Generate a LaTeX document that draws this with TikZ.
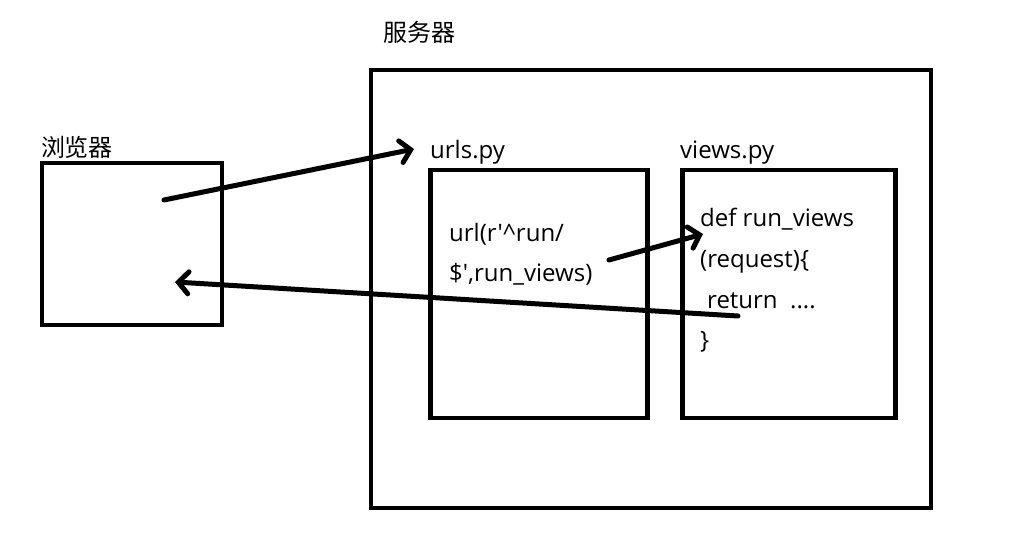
\documentclass[tikz,border=0pt]{standalone}
\usepackage{fontspec}
\setmainfont{Open Sans}
\newfontfamily\codefont{Open Sans}
\newfontfamily\cjk{Noto Sans CJK SC}
\usetikzlibrary{calc, arrows.meta}

\tikzset{
    box/.style={draw, line width=4.5pt, rectangle, inner sep=0pt},
    code/.style={anchor=base west, inner sep=0pt, font=\codefont\fontsize{24}{28}\selectfont},
    title/.style={inner sep=0pt, font=\cjk\fontsize{24}{28}\selectfont},
    flow/.style={line width=5pt, line cap=round, -{Straight Barb[length=10pt,width=22pt,line cap=round]}}
}

\begin{document}
\begin{tikzpicture}[x=1pt,y=-1pt]
        \useasboundingbox (0,0) rectangle (1018,535);
        \node[box, minimum width=560, minimum height=438] (server) at (651,289) {};
        \node[box, minimum width=180, minimum height=162] (browser) at (132,244) {};
        \node[box, minimum width=217, minimum height=248] (urls) at (539,294) {};
        \node[box, minimum width=213, minimum height=248] (views) at (789,294) {};
        \node[title] (servertitle) at (419,32) {服务器};
        \node[title] (browsertitle) at (77,147) {浏览器};
        \node[code] (urlstitle) at (430,158) {urls.py};
        \node[code] (viewstitle) at (680,158) {views.py};
        \node[code] (url1) at (449,241) {url(r'\textasciicircum run/};
        \node[code] (url2) at (449,281) {\$',run\_views)};
        \node[code] (def1) at (700,226) {def run\_views};
        \node[code] (def2) at (700,267) {(request)\{};
        \node[code] (def3) at (707,308) {return\ \ ....};
        \node[code] (def4) at (700,348) {\}};
        \coordinate (req) at (164,200);
        \coordinate (match) at (414,149);
        \coordinate (call) at (609,260);
        \coordinate (func) at (703,234);
        \coordinate (ret) at (738,316);
        \coordinate (show) at (175,282);
        \draw[flow] (req) -- (match);
        \draw[flow] (call) -- (func);
        \draw[flow] (ret) -- (show);
    \end{tikzpicture}
\end{document}
